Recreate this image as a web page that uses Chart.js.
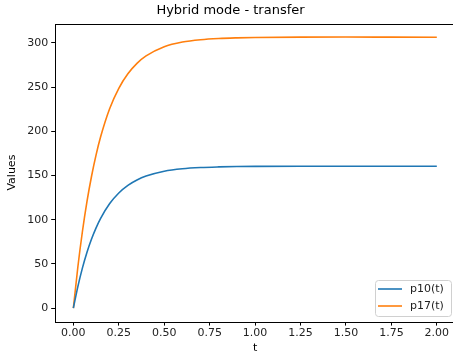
<!DOCTYPE html>
<html>
<head>
<meta charset="utf-8">
<script src="https://cdn.jsdelivr.net/npm/chart.js@4"></script>
<style>
  html, body { margin: 0; padding: 0; background: #fff; }
  #wrap { width: 453px; height: 358px; overflow: hidden; }
</style>
</head>
<body>
<div id="wrap"><canvas id="chart" width="461" height="358"></canvas></div>
<script>
// values
const tValues = [0, 0.025, 0.05, 0.075, 0.1, 0.125, 0.15, 0.2, 0.25, 0.3, 0.35, 0.4, 0.5, 0.6, 0.7, 0.8, 0.9, 1.0, 1.25, 1.5, 1.75, 2.0];
const p10 = [0, 24.6, 45.5, 63.2, 78.1, 90.7, 101.5, 118.2, 130.2, 138.8, 144.9, 149.3, 154.8, 157.6, 159.0, 159.7, 160.1, 160.3, 160.5, 160.5, 160.5, 160.5];
const p17 = [0, 47.0, 86.9, 120.6, 149.1, 173.3, 193.7, 225.7, 248.6, 265.0, 276.8, 285.2, 295.6, 300.9, 303.6, 305.0, 305.7, 306.1, 306.5, 306.6, 306.5, 306.4];
const xTicks = [0, 0.25, 0.5, 0.75, 1.0, 1.25, 1.5, 1.75, 2.0];
const yTicks = [0, 50, 100, 150, 200, 250, 300];
const seriesNames = ['p10(t)', 'p17(t)'];
const seriesColors = ['#1f77b4', '#ff7f0e'];

const toPoints = vals => vals.map((v, i) => ({ x: tValues[i], y: v }));

// box around plot area, like matplotlib spines
const frame = {
    id: 'frame',
    afterDraw(chart) {
        const { ctx, chartArea: a } = chart;
        ctx.save();
        ctx.strokeStyle = '#000';
        ctx.lineWidth = 1;
        ctx.strokeRect(Math.round(a.left) + 0.5, Math.round(a.top) + 0.5,
            Math.round(a.right - a.left), Math.round(a.bottom - a.top));
        ctx.restore();
    }
};

// legend drawn inside the plot, lower right
const innerLegend = {
    id: 'innerLegend',
    afterDraw(chart) {
        const { ctx, chartArea: a } = chart;
        const w = 76, h = 36;
        const x = Math.round(a.right) - 4 - w, y = Math.round(a.bottom) - 6 - h;
        ctx.save();
        ctx.fillStyle = 'rgba(255,255,255,0.8)';
        ctx.strokeStyle = '#d0d0d0';
        ctx.lineWidth = 1;
        ctx.beginPath();
        ctx.roundRect(x + 0.5, y + 0.5, w, h, 3);
        ctx.fill();
        ctx.stroke();
        ctx.font = '11px "DejaVu Sans"';
        ctx.textBaseline = 'middle';
        chart.data.datasets.forEach((ds, i) => {
            const ly = y + 9 + i * 17;
            ctx.strokeStyle = ds.borderColor;
            ctx.lineWidth = 1.6;
            ctx.beginPath();
            ctx.moveTo(x + 3, ly);
            ctx.lineTo(x + 27, ly);
            ctx.stroke();
            ctx.fillStyle = '#222';
            ctx.fillText(ds.label, x + 35, ly);
        });
        ctx.restore();
    }
};

new Chart(document.getElementById('chart'), {
    type: 'line',
    data: {
        datasets: [
            { label: seriesNames[0], data: toPoints(p10), borderColor: seriesColors[0] },
            { label: seriesNames[1], data: toPoints(p17), borderColor: seriesColors[1] }
        ]
    },
    options: {
        responsive: false,
        animation: false,
        devicePixelRatio: 1,
        layout: { padding: { left: 6, right: 6, top: 0, bottom: 3 } },
        elements: {
            line: { borderWidth: 1.6, cubicInterpolationMode: 'monotone', fill: false },
            point: { radius: 0 }
        },
        plugins: {
            legend: { display: false },
            tooltip: { enabled: false },
            title: {
                display: true,
                text: 'Hybrid mode - transfer',
                color: '#000',
                font: { family: 'DejaVu Sans', size: 13, weight: 'normal' },
                padding: { top: 3, bottom: 5 }
            }
        },
        scales: {
            x: {
                type: 'linear',
                min: -0.1,
                max: 2.1,
                afterBuildTicks: axis => { axis.ticks = xTicks.map(v => ({ value: v })); },
                ticks: {
                    color: '#222',
                    font: { family: 'DejaVu Sans', size: 11 },
                    maxRotation: 0,
                    padding: 1,
                    callback: v => v.toFixed(2)
                },
                grid: { drawOnChartArea: false, drawTicks: true, tickLength: 4, color: '#000' },
                border: { display: false },
                title: {
                    display: true, text: 't', color: '#000',
                    font: { family: 'DejaVu Sans', size: 11 },
                    padding: { top: 1, bottom: 0 }
                }
            },
            y: {
                min: -15.3,
                max: 321.8,
                afterBuildTicks: axis => { axis.ticks = yTicks.map(v => ({ value: v })); },
                ticks: {
                    color: '#222',
                    font: { family: 'DejaVu Sans', size: 11 },
                    padding: 3
                },
                grid: { drawOnChartArea: false, drawTicks: true, tickLength: 4, color: '#000' },
                border: { display: false },
                title: {
                    display: true, text: 'Values', color: '#000',
                    font: { family: 'DejaVu Sans', size: 11 },
                    padding: { top: 0, bottom: 5 }
                }
            }
        }
    },
    plugins: [frame, innerLegend]
});
</script>
</body>
</html>
